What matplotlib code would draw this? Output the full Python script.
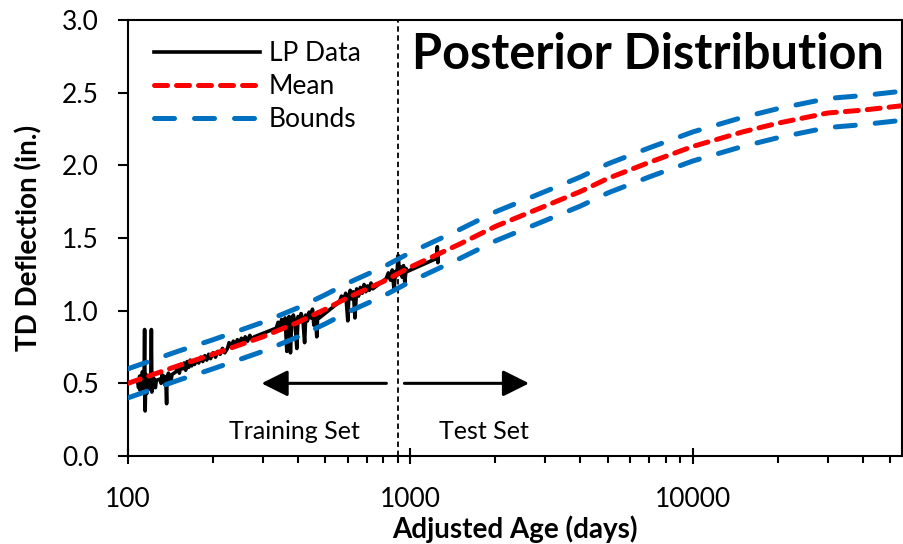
import matplotlib
matplotlib.use("Agg")
import matplotlib.pyplot as plt
from matplotlib.ticker import FixedLocator, NullFormatter

plt.rcParams['font.family'] = ['Lato', 'DejaVu Sans']

# LP measurements (adjusted age in days, TD deflection in inches)
lp_days = [108, 109, 110, 110.5, 111, 112, 112.5, 113, 114, 114.5, 115, 115.5, 116, 116.5,
           117, 118, 119, 119.5, 120, 120.5, 121, 121.5, 122, 123, 124, 125, 126,
           130, 131, 132, 133, 134, 135, 136, 137, 137.5, 138, 139, 140, 141, 142, 143,
           148, 150, 152, 154, 156, 158, 160, 162, 164, 166, 168, 170, 172, 175,
           178, 181, 184, 187, 190, 193, 196, 200, 204, 208, 212, 216, 220,
           225, 228, 232, 236, 240, 244, 248, 252, 256, 260, 265, 270, 275, 280,
           335, 340, 345, 350, 355, 360, 365, 368, 372, 376, 380, 385, 390, 396, 400,
           405, 410, 416, 422, 426, 432, 438, 444, 450, 455, 460, 466, 470, 476,
           560, 570, 580, 590, 600, 605, 612, 620, 628, 636, 645, 655, 665, 675, 685,
           695, 705, 715, 725, 735,
           820, 835, 850, 862, 875, 885, 895, 905, 915, 925, 935, 945, 955, 965, 975,
           1240, 1245, 1250, 1255]
lp_defl = [0.52, 0.47, 0.55, 0.45, 0.53, 0.49, 0.58, 0.44, 0.54, 0.87, 0.31, 0.50, 0.56, 0.43,
           0.52, 0.48, 0.55, 0.46, 0.50, 0.53, 0.87, 0.44, 0.57, 0.49, 0.53, 0.47, 0.52,
           0.53, 0.50, 0.56, 0.51, 0.55, 0.49, 0.54, 0.36, 0.55, 0.50, 0.57, 0.52, 0.55, 0.51, 0.56,
           0.58, 0.62, 0.57, 0.63, 0.60, 0.64, 0.59, 0.65, 0.61, 0.66, 0.62, 0.65, 0.63, 0.66,
           0.64, 0.68, 0.65, 0.69, 0.66, 0.70, 0.67, 0.71, 0.68, 0.72, 0.70, 0.74, 0.71,
           0.74, 0.78, 0.75, 0.79, 0.76, 0.80, 0.77, 0.81, 0.78, 0.82, 0.79, 0.83, 0.80, 0.82,
           0.88, 0.92, 0.89, 0.94, 0.90, 0.95, 0.72, 0.93, 0.96, 0.71, 0.94, 0.97, 0.92, 0.74, 0.96,
           0.93, 0.98, 0.94, 0.78, 0.97, 0.93, 0.99, 0.95, 1.01, 0.90, 0.97, 0.82, 0.99, 0.95,
           1.06, 1.10, 1.07, 1.12, 0.93, 1.09, 1.14, 1.08, 1.13, 0.95, 1.15, 1.10, 1.16, 1.12, 1.18,
           1.13, 1.17, 1.14, 1.19, 1.15,
           1.22, 1.26, 1.21, 1.28, 1.14, 1.27, 1.24, 1.38, 1.25, 1.30, 1.23, 1.31, 1.19, 1.29, 1.27,
           1.36, 1.44, 1.33, 1.38]

# posterior mean and bounds
post_days = [100, 150, 200, 300, 400, 500, 600, 800, 1000, 1500, 2000, 3000, 4000, 5000,
             7000, 10000, 15000, 20000, 30000, 40000, 55000]
post_mean = [0.50, 0.62, 0.70, 0.82, 0.92, 1.01, 1.09, 1.20, 1.30, 1.46, 1.58, 1.72, 1.82, 1.91,
             2.02, 2.13, 2.23, 2.29, 2.36, 2.38, 2.41]
post_upper = [0.60, 0.72, 0.80, 0.92, 1.02, 1.11, 1.19, 1.30, 1.40, 1.56, 1.68, 1.82, 1.92, 2.01,
              2.12, 2.23, 2.33, 2.39, 2.46, 2.48, 2.51]
post_lower = [0.40, 0.52, 0.60, 0.72, 0.82, 0.91, 0.99, 1.10, 1.20, 1.36, 1.48, 1.62, 1.72, 1.81,
              1.92, 2.03, 2.13, 2.19, 2.26, 2.28, 2.31]

split_day = 900
x_ticks = [100, 1000, 10000]

fig = plt.figure(figsize=(9.04, 5.44), dpi=100)
ax = fig.add_axes([128 / 904, 88 / 544, 774 / 904, 436 / 544])

ax.plot(lp_days, lp_defl, color='black', lw=2.6, label='LP Data', zorder=3)
ax.plot(post_days, post_mean, color='#FF0000', lw=3.6, ls=(0, (2.6, 1.8)),
        solid_capstyle='round', dash_capstyle='round', label='Mean', zorder=4)
ax.plot(post_days, post_upper, color='#0070C0', lw=3.6, ls=(0, (4.0, 4.0)),
        dash_capstyle='round', label='Bounds', zorder=4)
ax.plot(post_days, post_lower, color='#0070C0', lw=3.6, ls=(0, (4.0, 4.0)),
        dash_capstyle='round', zorder=4)

ax.axvline(split_day, color='black', lw=1.3, ls=(0, (3, 2)), zorder=2)

# training / test arrows
ax.annotate('', xy=(297, 0.5), xytext=(822, 0.5),
            arrowprops=dict(arrowstyle='-|>', mutation_scale=40, lw=2.2,
                            color='black', shrinkA=0, shrinkB=0))
ax.annotate('', xy=(2630, 0.5), xytext=(952, 0.5),
            arrowprops=dict(arrowstyle='-|>', mutation_scale=40, lw=2.2,
                            color='black', shrinkA=0, shrinkB=0))
ax.text(389, 0.17, 'Training Set', fontsize=18, ha='center', va='center')
ax.text(1824, 0.17, 'Test Set', fontsize=18, ha='center', va='center')

ax.text(0.672, 0.922, 'Posterior Distribution', transform=ax.transAxes,
        fontsize=35, fontweight='bold', ha='center', va='center')

ax.set_xscale('log')
ax.set_xlim(100, 55000)
ax.set_ylim(0, 3.0)
ax.xaxis.set_major_locator(FixedLocator(x_ticks))
ax.set_xticklabels([str(t) for t in x_ticks])
ax.xaxis.set_minor_formatter(NullFormatter())
ax.set_yticks([0, 0.5, 1.0, 1.5, 2.0, 2.5, 3.0])
ax.set_yticklabels(['%.1f' % v for v in ax.get_yticks()])

ax.tick_params(axis='x', which='major', direction='inout', length=11, width=1.5,
               labelsize=19, pad=17)
ax.tick_params(axis='x', which='minor', direction='out', length=5, width=1.5)
ax.tick_params(axis='y', which='major', direction='out', length=7, width=1.5,
               labelsize=19, pad=14)
for s in ax.spines.values():
    s.set_linewidth(1.5)

ax.set_xlabel('Adjusted Age (days)', fontsize=20, fontweight='bold')
ax.xaxis.set_label_coords(0.5, -0.136)
ax.set_ylabel('TD Deflection (in.)', fontsize=20, fontweight='bold')
ax.yaxis.set_label_coords(-0.111, 0.5)

ax.legend(loc='upper left', bbox_to_anchor=(0.02, 0.975), frameon=False, fontsize=19,
          handlelength=4.0, handletextpad=0.35, labelspacing=0.3, borderaxespad=0)

fig.savefig('out.png', dpi=100)
